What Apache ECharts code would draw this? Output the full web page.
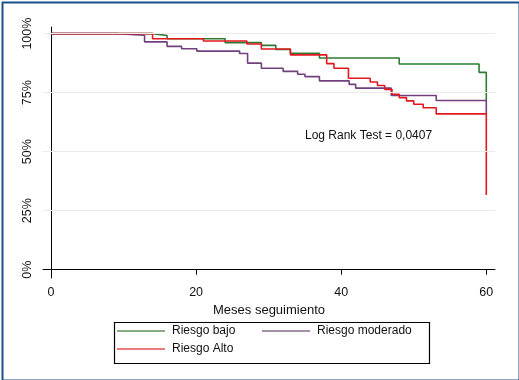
<!DOCTYPE html>
<html>
<head>
<meta charset="utf-8">
<script src="https://cdn.jsdelivr.net/npm/echarts@6/dist/echarts.min.js"></script>
<style>html,body{margin:0;padding:0;background:#fff}#c{width:519px;height:380px}</style>
</head>
<body>
<div id="c"></div>
<script>
// Months of follow-up at which each curve steps, and survival (%) after the step
var bajoT = [0, 14, 16, 24, 29, 31, 33, 37, 48, 59, 60];
var bajoS = [100, 99.2, 97.8, 96.2, 95.0, 93.3, 91.7, 89.7, 87.1, 83.6, 71.7];

var moderadoT = [0, 9, 12.9, 16, 18, 20.1, 26, 27.1, 29, 32, 34, 35, 37, 41.1, 42, 46.9, 53.1, 60];
var moderadoS = [100, 99.3, 96.5, 94.6, 93.6, 92.6, 91.6, 87.5, 85.3, 84.0, 82.8, 81.8, 80.0, 78.5, 76.9, 73.8, 71.7, 65.8];

var altoT = [0, 14, 21, 27, 29, 33, 38, 39, 41, 44, 45, 46, 47, 48, 49, 50, 51.3, 53.1, 60];
var altoS = [100, 97.8, 96.9, 95.6, 93.5, 91.0, 87.3, 85.3, 81.1, 79.5, 78.0, 76.4, 74.3, 72.9, 71.5, 70.1, 68.6, 66.0, 31.7];

var xTicks = [0, 20, 40, 60];
var yTicks = [0, 25, 50, 75, 100];
var gridYs = [25, 50, 75, 100];

var names = ['Riesgo bajo', 'Riesgo moderado', 'Riesgo Alto'];
var colors = ['#2f7a33', '#73407e', '#e3191f'];
var legendColors = ['#5d8f5f', '#8a6a90', '#e5504f'];

function pairs(t, s) { return t.map(function (v, i) { return [v, s[i]]; }); }

var FONT = '"Liberation Sans", Arial, sans-serif';
var chart = echarts.init(document.getElementById('c'), null, { renderer: 'canvas' });

var curves = [pairs(bajoT, bajoS), pairs(moderadoT, moderadoS), pairs(altoT, altoS)];

var series = [{
  name: 'grid', type: 'line', data: [], z: 1, silent: true,
  markLine: {
    silent: true, symbol: ['none', 'none'], label: { show: false },
    lineStyle: { color: '#ebebeb', type: 'solid', width: 1 },
    emphasis: { disabled: true },
    data: gridYs.map(function (v) { return { yAxis: v }; })
  }
}];
names.forEach(function (n, i) {
  series.push({
    name: n, type: 'line', step: 'end', data: curves[i], symbol: 'none',
    z: 2 + i, animation: false,
    lineStyle: { color: colors[i], width: 1.6 },
    itemStyle: { color: legendColors[i] }
  });
});

function legendCfg(data, left) {
  return {
    data: data, orient: 'vertical', left: left, top: 324,
    padding: 0, itemGap: 4, itemWidth: 48, itemHeight: 1.6, icon: 'rect',
    textStyle: { color: '#111', fontFamily: FONT, fontSize: 12, lineHeight: 14, padding: [0, 0, 0, 2] },
    selectedMode: false
  };
}

chart.setOption({
  animation: false,
  backgroundColor: '#fff',
  grid: { left: 43, right: 24, top: 27, bottom: 102 },
  xAxis: {
    type: 'value', min: -1.1, max: 61.2,
    axisLine: { show: true, lineStyle: { color: '#000', width: 1 } },
    axisTick: { show: true, customValues: xTicks, length: 5, lineStyle: { color: '#000' } },
    axisLabel: { customValues: xTicks, color: '#111', fontFamily: FONT, fontSize: 12.5, margin: 8 },
    splitLine: { show: false },
    name: 'Meses seguimiento', nameLocation: 'middle', nameGap: 17,
    nameTextStyle: { color: '#111', fontFamily: FONT, fontSize: 13 }
  },
  yAxis: {
    type: 'value', min: -3.5, max: 102.8,
    axisLine: { show: true, lineStyle: { color: '#000', width: 1 } },
    axisTick: { show: true, customValues: yTicks, length: 5, lineStyle: { color: '#000' } },
    axisLabel: {
      customValues: yTicks, rotate: 90, color: '#111', fontFamily: FONT, fontSize: 12.5, margin: 9,
      formatter: function (v) { return v + '%'; }
    },
    splitLine: { show: false }
  },
  legend: [legendCfg(['Riesgo bajo', 'Riesgo Alto'], 117), legendCfg(['Riesgo moderado'], 262)],
  graphic: [
    { type: 'rect', left: 0, top: 0, silent: true, z: 100,
      shape: { x: 1, y: 1, width: 517, height: 378 },
      style: { fill: 'none', stroke: '#1d4f8a', lineWidth: 2 } },
    { type: 'rect', left: 112, top: 320, silent: true,
      shape: { width: 315, height: 41 },
      style: { fill: 'none', stroke: '#000', lineWidth: 1.2 } },
    { type: 'text', left: 305, top: 130, silent: true,
      style: { text: 'Log Rank Test = 0,0407', fill: '#111', font: '12px ' + FONT } }
  ],
  series: series
});
</script>
</body>
</html>
